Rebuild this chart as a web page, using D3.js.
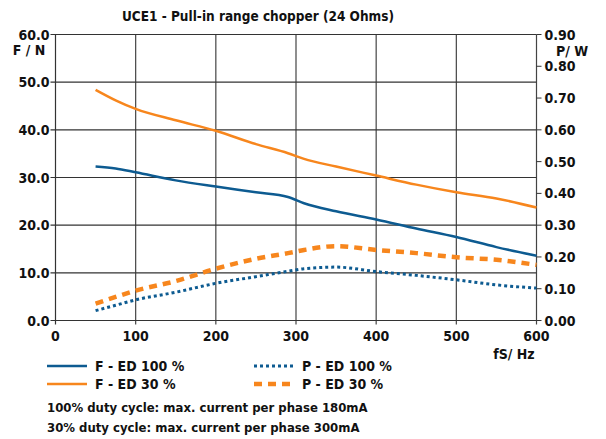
<!doctype html>
<html>
<head>
  <script src="https://cdnjs.cloudflare.com/ajax/libs/d3/7.8.5/d3.min.js"></script>
  <style>
    body { margin: 0; background: #fff; }
    svg text { font-family: "DejaVu Sans Condensed", "DejaVu Sans", sans-serif; font-weight: bold; fill: #111; }
  </style>
</head>
<body>
  <svg id="chart" width="606" height="439"></svg>
  <script>
    // frequency fS / Hz
    var freq = [50, 75, 100, 150, 200, 250, 290, 310, 350, 400, 450, 500, 550, 600];
    // force F / N
    var forceEd100 = [32.3, 31.9, 31.1, 29.4, 28.1, 26.9, 25.9, 24.6, 22.9, 21.2, 19.3, 17.5, 15.4, 13.6];
    var forceEd30 = [48.4, 46.2, 44.4, 42.0, 39.8, 37.0, 35.1, 33.9, 32.3, 30.4, 28.5, 26.9, 25.6, 23.7];
    // power P / W
    var powerEd100 = [0.031, 0.048, 0.065, 0.089, 0.117, 0.138, 0.155, 0.163, 0.168, 0.154, 0.142, 0.128, 0.112, 0.102];
    var powerEd30 = [0.053, 0.074, 0.094, 0.124, 0.163, 0.194, 0.212, 0.222, 0.234, 0.222, 0.212, 0.199, 0.191, 0.175];

    var xTicks = [0, 100, 200, 300, 400, 500, 600];
    var yTicks = [0, 10, 20, 30, 40, 50, 60];
    var y2Ticks = [0, 0.1, 0.2, 0.3, 0.4, 0.5, 0.6, 0.7, 0.8, 0.9];

    var blue = "#0d5b91", orange = "#f7861d";

    var svg = d3.select("#chart");
    var m = { left: 55.5, right: 536.5, top: 34.5, bottom: 320.5 };

    var x = d3.scaleLinear().domain([0, 600]).range([m.left, m.right]);
    var y = d3.scaleLinear().domain([0, 60]).range([m.bottom, m.top]);
    var y2 = d3.scaleLinear().domain([0, 0.9]).range([m.bottom, m.top]);

    svg.append("text").attr("x", 258).attr("y", 21).attr("text-anchor", "middle")
      .style("font-size", "13.5px").text("UCE1 - Pull-in range chopper (24 Ohms)");

    // grid
    svg.append("g").selectAll("line").data(xTicks.slice(1)).enter().append("line")
      .attr("x1", d => x(d)).attr("x2", d => x(d)).attr("y1", m.top).attr("y2", m.bottom + 4)
      .attr("stroke", "#444").attr("stroke-width", 1.2);
    svg.append("g").selectAll("line").data(yTicks).enter().append("line")
      .attr("x1", m.left - 5).attr("x2", m.right).attr("y1", d => y(d)).attr("y2", d => y(d))
      .attr("stroke", "#333").attr("stroke-width", 1.1);
    svg.append("line").attr("x1", m.left).attr("x2", m.left).attr("y1", m.top).attr("y2", m.bottom + 4)
      .attr("stroke", "#333").attr("stroke-width", 1.2);

    // left axis labels
    svg.append("g").selectAll("text").data(yTicks).enter().append("text")
      .attr("x", m.left - 6).attr("y", d => y(d) + 5).attr("text-anchor", "end")
      .style("font-size", "14px").text(d => d.toFixed(1));
    svg.append("text").attr("x", 29).attr("y", 55).attr("text-anchor", "middle")
      .style("font-size", "14px").text("F / N");

    // right axis
    svg.append("g").selectAll("line").data(y2Ticks).enter().append("line")
      .attr("x1", m.right).attr("x2", m.right + 5).attr("y1", d => y2(d)).attr("y2", d => y2(d))
      .attr("stroke", "#333").attr("stroke-width", 1);
    svg.append("g").selectAll("text").data(y2Ticks).enter().append("text")
      .attr("x", m.right + 8).attr("y", d => y2(d) + 5)
      .style("font-size", "14px").text(d => d.toFixed(2));
    svg.append("text").attr("x", 572).attr("y", 56).attr("text-anchor", "middle")
      .style("font-size", "14px").text("P/ W");

    // x axis labels
    svg.append("g").selectAll("text").data(xTicks).enter().append("text")
      .attr("x", d => x(d)).attr("y", m.bottom + 20).attr("text-anchor", "middle")
      .style("font-size", "14px").text(d => d);
    svg.append("text").attr("x", 514).attr("y", 359).attr("text-anchor", "middle")
      .style("font-size", "14px").text("fS/ Hz");

    // series
    var lineF = d3.line().x((d, i) => x(freq[i])).y(d => y(d)).curve(d3.curveMonotoneX);
    var lineP = d3.line().x((d, i) => x(freq[i])).y(d => y2(d)).curve(d3.curveMonotoneX);

    var series = [
      { data: forceEd100, gen: lineF, color: blue, width: 2.5, dash: null, label: "F - ED 100 %" },
      { data: forceEd30, gen: lineF, color: orange, width: 2.5, dash: null, label: "F - ED 30 %" },
      { data: powerEd100, gen: lineP, color: blue, width: 3, dash: "3,3", label: "P - ED 100 %" },
      { data: powerEd30, gen: lineP, color: orange, width: 4.5, dash: "8,6", label: "P - ED 30 %" }
    ];
    series.forEach(s => {
      svg.append("path").attr("d", s.gen(s.data)).attr("fill", "none")
        .attr("stroke", s.color).attr("stroke-width", s.width)
        .attr("stroke-dasharray", s.dash);
    });

    // legend
    var legPos = [[47, 366], [47, 384], [254, 366], [254, 384]];
    series.forEach((s, i) => {
      var p = legPos[i];
      svg.append("line").attr("x1", p[0]).attr("x2", p[0] + 40).attr("y1", p[1]).attr("y2", p[1])
        .attr("stroke", s.color).attr("stroke-width", s.dash ? (i == 3 ? 4.5 : 3) : 2.5)
        .attr("stroke-dasharray", s.dash);
      svg.append("text").attr("x", p[0] + 48).attr("y", p[1] + 5)
        .style("font-size", "14px").text(s.label);
    });

    svg.append("text").attr("x", 47).attr("y", 412).style("font-size", "13px")
      .text("100% duty cycle: max. current per phase 180mA");
    svg.append("text").attr("x", 47).attr("y", 432).style("font-size", "13px")
      .text("30% duty cycle: max. current per phase 300mA");
  </script>
</body>
</html>
